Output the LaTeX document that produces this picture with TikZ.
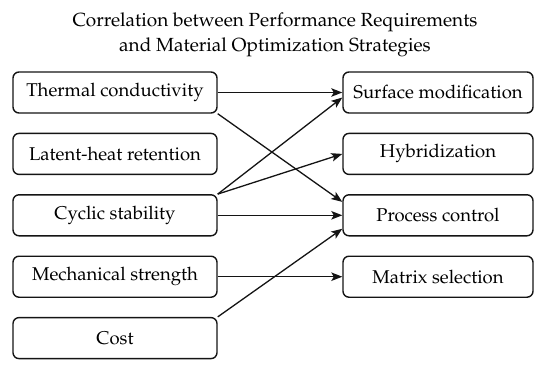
\documentclass[tikz,border=0pt]{standalone}
\usepackage[T1]{fontenc}
\usepackage{mathpazo}
\usepackage{tikz}
\usetikzlibrary{arrows.meta, positioning}
\usepackage{xcolor}
\definecolor{LineBlack}{RGB}{20, 20, 20}
\tikzset{
  reqbox/.style={rectangle, rounded corners=6pt, draw=LineBlack, fill=white,
                 line width=1.4pt, minimum width=204pt, minimum height=41pt,
                 font=\fontsize{18.5}{22}\selectfont, text=black, align=center},
  optbox/.style={reqbox, minimum width=190pt},
  arr/.style={-{Stealth[length=11pt, width=8.5pt, inset=2.5pt]}, line width=1.3pt, color=LineBlack},
}

\begin{document}
\begin{tikzpicture}[x=1pt, y=1pt, node distance=19pt]
      \useasboundingbox (0,0) rectangle (550,-365);

      % Title
      \node[font=\fontsize{19}{25}\selectfont, align=center] (title) at (275,-35)
        {Correlation between Performance Requirements\\and Material Optimization Strategies};

      % Performance requirements
      \node[reqbox] (tc) at (115,-92.5) {Thermal conductivity};
      \node[reqbox, below=of tc] (lh) {Latent-heat retention};
      \node[reqbox, below=of lh] (cs) {Cyclic stability};
      \node[reqbox, below=of cs] (ms) {Mechanical strength};
      \node[reqbox, below=of ms] (co) {Cost};

      % Optimization strategies
      \node[optbox] (sm) at (438,-92.5) {Surface modification};
      \node[optbox, below=of sm] (hy) {Hybridization};
      \node[optbox, below=of hy] (pc) {Process control};
      \node[optbox, below=of pc] (mx) {Matrix selection};

      \draw[arr] (tc.east) -- (sm.west);
      \draw[arr] (tc.south east) -- (pc.172);
      \draw[arr] (cs.north east) -- (sm.183);
      \draw[arr] (cs.north east) -- (hy.west);
      \draw[arr] (cs.east) -- (pc.west);
      \draw[arr] (ms.east) -- (mx.west);
      \draw[arr] (co.north east) -- (pc.188);
    \end{tikzpicture}
\end{document}
